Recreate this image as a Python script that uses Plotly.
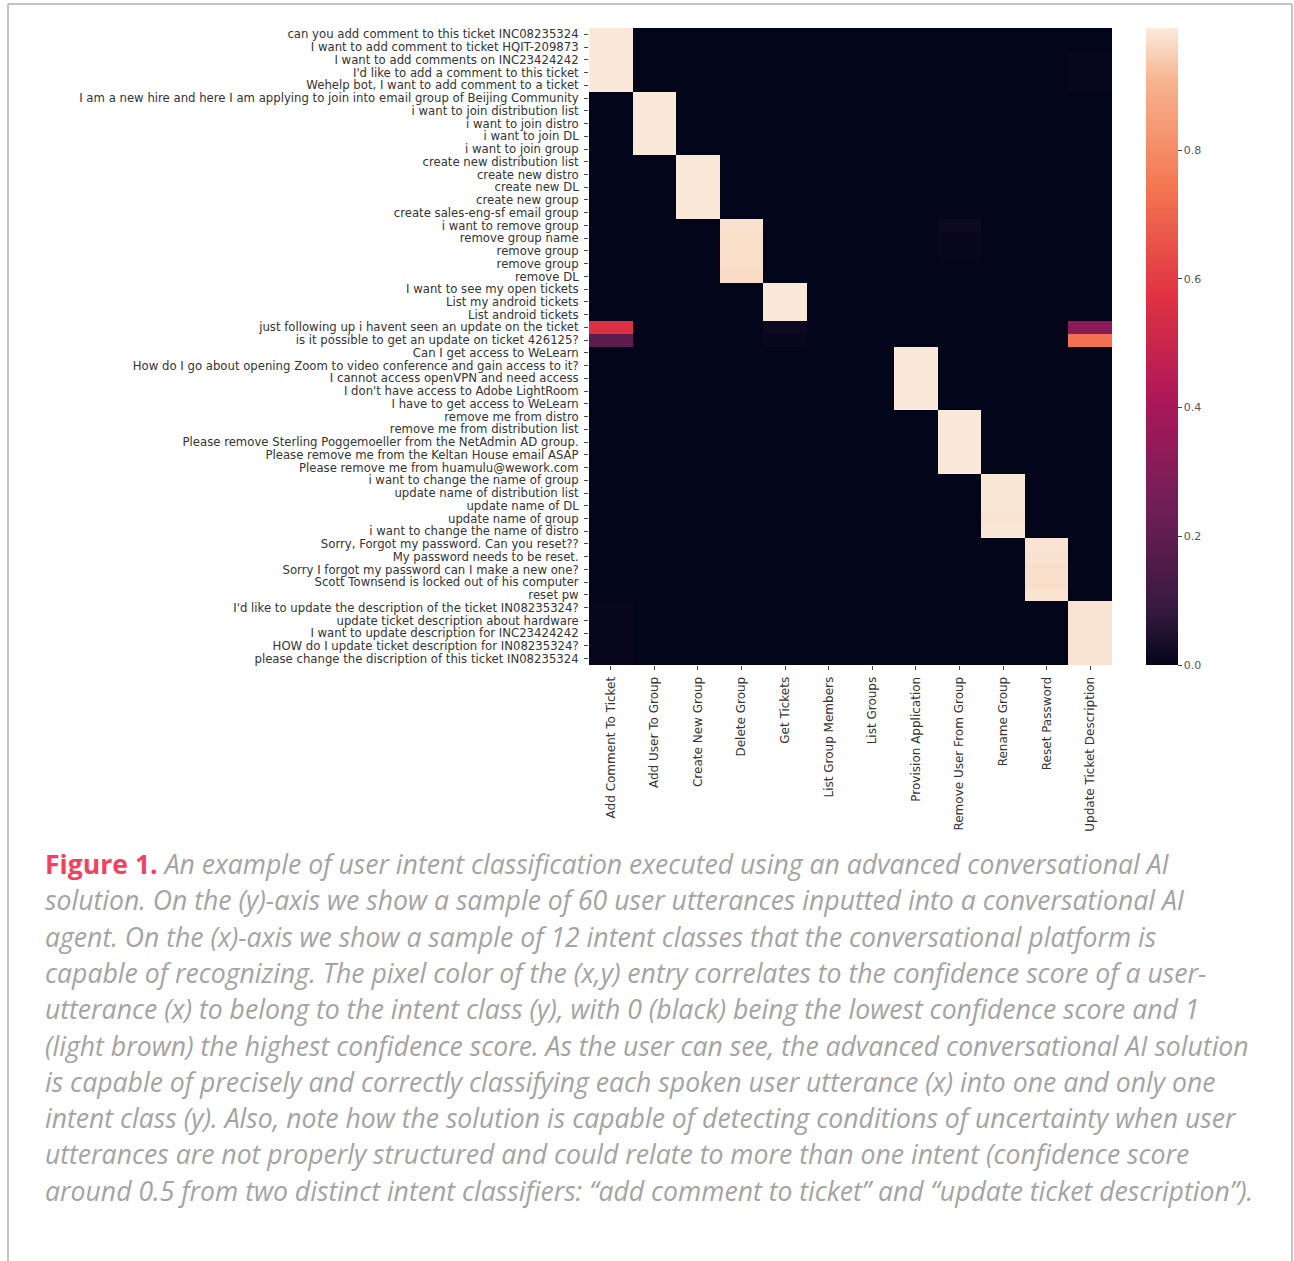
import plotly.graph_objects as go

intents = ["Add Comment To Ticket", "Add User To Group", "Create New Group", "Delete Group",
           "Get Tickets", "List Group Members", "List Groups", "Provision Application",
           "Remove User From Group", "Rename Group", "Reset Password", "Update Ticket Description"]

utterances = [
    "can you add comment to this ticket INC08235324",
    "I want to add comment to ticket HQIT-209873",
    "I want to add comments on INC23424242",
    "I'd like to add a comment to this ticket",
    "Wehelp bot, I want to add comment to a ticket",
    "I am a new hire and here I am applying to join into email group of Beijing Community",
    "i want to join distribution list",
    "i want to join distro",
    "i want to join DL",
    "i want to join group",
    "create new distribution list",
    "create new distro",
    "create new DL",
    "create new group",
    "create sales-eng-sf email group",
    "i want to remove group",
    "remove group name",
    "remove group",
    "remove group",
    "remove DL",
    "I want to see my open tickets",
    "List my android tickets",
    "List android tickets",
    "just following up i havent seen an update on the ticket",
    "is it possible to get an update on ticket 426125?",
    "Can I get access to WeLearn",
    "How do I go about opening Zoom to video conference and gain access to it?",
    "I cannot access openVPN and need access",
    "I don't have access to Adobe LightRoom",
    "I have to get access to WeLearn",
    "remove me from distro",
    "remove me from distribution list",
    "Please remove Sterling Poggemoeller from the NetAdmin AD group.",
    "Please remove me from the Keltan House email ASAP",
    "Please remove me from huamulu@wework.com",
    "i want to change the name of group",
    "update name of distribution list",
    "update name of DL",
    "update name of group",
    "i want to change the name of distro",
    "Sorry, Forgot my password. Can you reset??",
    "My password needs to be reset.",
    "Sorry I forgot my password can I make a new one?",
    "Scott Townsend is locked out of his computer",
    "reset pw",
    "I'd like to update the description of the ticket IN08235324?",
    "update ticket description about hardware",
    "I want to update description for INC23424242",
    "HOW do I update ticket description for IN08235324?",
    "please change the discription of this ticket IN08235324",
]

# confidence scores, one row per utterance, one column per intent
scores = [
    [0.985, 0, 0, 0, 0, 0, 0, 0, 0, 0, 0, 0.000],
    [0.985, 0, 0, 0, 0, 0, 0, 0, 0, 0, 0, 0.000],
    [0.985, 0, 0, 0, 0, 0, 0, 0, 0, 0, 0, 0.006],
    [0.985, 0, 0, 0, 0, 0, 0, 0, 0, 0, 0, 0.006],
    [0.985, 0, 0, 0, 0, 0, 0, 0, 0, 0, 0, 0.006],
    [0, 0.985, 0, 0, 0, 0, 0, 0, 0, 0, 0, 0],
    [0, 0.985, 0, 0, 0, 0, 0, 0, 0, 0, 0, 0],
    [0, 0.985, 0, 0, 0, 0, 0, 0, 0, 0, 0, 0],
    [0, 0.985, 0, 0, 0, 0, 0, 0, 0, 0, 0, 0],
    [0, 0.985, 0, 0, 0, 0, 0, 0, 0, 0, 0, 0],
    [0, 0, 0.985, 0, 0, 0, 0, 0, 0, 0, 0, 0],
    [0, 0, 0.985, 0, 0, 0, 0, 0, 0, 0, 0, 0],
    [0, 0, 0.985, 0, 0, 0, 0, 0, 0, 0, 0, 0],
    [0, 0, 0.985, 0, 0, 0, 0, 0, 0, 0, 0, 0],
    [0, 0, 0.985, 0, 0, 0, 0, 0, 0, 0, 0, 0],
    [0, 0, 0, 0.975, 0, 0, 0, 0, 0.015, 0, 0, 0],
    [0, 0, 0, 0.970, 0, 0, 0, 0, 0.008, 0, 0, 0],
    [0, 0, 0, 0.970, 0, 0, 0, 0, 0.008, 0, 0, 0],
    [0, 0, 0, 0.970, 0, 0, 0, 0, 0.004, 0, 0, 0],
    [0, 0, 0, 0.968, 0, 0, 0, 0, 0.000, 0, 0, 0],
    [0, 0, 0, 0, 0.985, 0, 0, 0, 0, 0, 0, 0],
    [0, 0, 0, 0, 0.985, 0, 0, 0, 0, 0, 0, 0],
    [0, 0, 0, 0, 0.985, 0, 0, 0, 0, 0, 0, 0],
    [0.56, 0, 0, 0, 0.015, 0, 0, 0, 0, 0, 0, 0.32],
    [0.19, 0, 0, 0, 0.010, 0, 0, 0, 0, 0, 0, 0.73],
    [0, 0, 0, 0, 0, 0, 0, 0.985, 0, 0, 0, 0],
    [0, 0, 0, 0, 0, 0, 0, 0.985, 0, 0, 0, 0],
    [0, 0, 0, 0, 0, 0, 0, 0.985, 0, 0, 0, 0],
    [0, 0, 0, 0, 0, 0, 0, 0.985, 0, 0, 0, 0],
    [0, 0, 0, 0, 0, 0, 0, 0.985, 0, 0, 0, 0],
    [0, 0, 0, 0, 0, 0, 0, 0, 0.985, 0, 0, 0],
    [0, 0, 0, 0, 0, 0, 0, 0, 0.985, 0, 0, 0],
    [0, 0, 0, 0, 0, 0, 0, 0, 0.985, 0, 0, 0],
    [0, 0, 0, 0, 0, 0, 0, 0, 0.985, 0, 0, 0],
    [0, 0, 0, 0, 0, 0, 0, 0, 0.985, 0, 0, 0],
    [0, 0, 0, 0, 0, 0, 0, 0, 0, 0.982, 0, 0],
    [0, 0, 0, 0, 0, 0, 0, 0, 0, 0.982, 0, 0],
    [0, 0, 0, 0, 0, 0, 0, 0, 0, 0.982, 0, 0],
    [0, 0, 0, 0, 0, 0, 0, 0, 0, 0.978, 0, 0],
    [0, 0, 0, 0, 0, 0, 0, 0, 0, 0.982, 0, 0],
    [0, 0, 0, 0, 0, 0, 0, 0, 0, 0, 0.978, 0],
    [0, 0, 0, 0, 0, 0, 0, 0, 0, 0, 0.976, 0],
    [0, 0, 0, 0, 0, 0, 0, 0, 0, 0, 0.970, 0],
    [0, 0, 0, 0, 0, 0, 0, 0, 0, 0, 0.970, 0],
    [0, 0, 0, 0, 0, 0, 0, 0, 0, 0, 0.978, 0],
    [0.006, 0, 0, 0, 0, 0, 0, 0, 0, 0, 0, 0.978],
    [0.006, 0, 0, 0, 0, 0, 0, 0, 0, 0, 0, 0.978],
    [0.006, 0, 0, 0, 0, 0, 0, 0, 0, 0, 0, 0.978],
    [0.006, 0, 0, 0, 0, 0, 0, 0, 0, 0, 0, 0.978],
    [0.006, 0, 0, 0, 0, 0, 0, 0, 0, 0, 0, 0.978],
]

cbar_ticks = [0.0, 0.2, 0.4, 0.6, 0.8]
cbar_labels = ["0.0", "0.2", "0.4", "0.6", "0.8"]

rocket = [
    [0.0, "#03051a"], [0.083, "#35193e"], [0.25, "#701f57"], [0.417, "#ad1759"],
    [0.583, "#e13342"], [0.75, "#f37651"], [0.917, "#f6b48f"], [1.0, "#faebdd"],
]

caption_head = "Figure 1."
caption_lines = [
    "An example of user intent classification executed using an advanced conversational AI",
    "solution. On the (y)-axis we show a sample of 60 user utterances inputted into a conversational AI",
    "agent. On the (x)-axis we show a sample of 12 intent classes that the conversational platform is",
    "capable of recognizing. The pixel color of the (x,y) entry correlates to the confidence score of a user-",
    "utterance (x) to belong to the intent class (y), with 0 (black) being the lowest confidence score and 1",
    "(light brown) the highest confidence score. As the user can see, the advanced conversational AI solution",
    "is capable of precisely and correctly classifying each spoken user utterance (x) into one and only one",
    "intent class (y). Also, note how the solution is capable of detecting conditions of uncertainty when user",
    "utterances are not properly structured and could relate to more than one intent (confidence score",
    "around 0.5 from two distinct intent classifiers: \u201cadd comment to ticket\u201d and \u201cupdate ticket description\u201d).",
]

xi = list(range(len(intents)))
yi = list(range(len(utterances)))

fig = go.Figure(go.Heatmap(
    z=scores, x=xi, y=yi, colorscale=rocket, zmin=0, zmax=0.99,
    colorbar=dict(
        x=(1146 - 589) / 523, xanchor="left", xpad=0, y=0.5, yanchor="middle", ypad=0,
        len=1.0, lenmode="fraction",
        thickness=32, outlinewidth=0, tickvals=cbar_ticks, ticktext=cbar_labels,
        ticks="outside", ticklen=4, tickcolor="#444",
        tickfont=dict(family="DejaVu Sans", size=11, color="#555"),
    ),
))

PW, PH = 523, 637
def px(x):
    return (x - 589) / PW
def py(y):
    return (665 - y) / PH

annotations = []
line_y0, line_step = 864, 36.3
for i, line in enumerate(caption_lines):
    if i == 0:
        txt = ("<b><span style='font-style:normal;color:#f43f5e'>" + caption_head +
               "</span></b> <i>" + line + "</i>")
    else:
        txt = "<i>" + line + "</i>"
    annotations.append(dict(
        text=txt, xref="paper", yref="paper", x=px(43), y=py(line_y0 + i * line_step),
        xanchor="left", yanchor="middle", align="left", showarrow=False,
        font=dict(family="Open Sans", size=26.6, color="#a3a3a3"),
    ))

fig.update_layout(
    width=1294, height=1261,
    margin=dict(l=589, r=182, t=28, b=596),
    paper_bgcolor="white", plot_bgcolor="white",
    xaxis=dict(tickmode="array", tickvals=xi, ticktext=intents, tickangle=-90,
               ticks="outside", ticklen=4, tickcolor="#444", showgrid=False, zeroline=False,
               range=[-0.5, len(intents) - 0.5], ticklabelstandoff=2,
               tickfont=dict(family="DejaVu Sans", size=12, color="#333")),
    yaxis=dict(tickmode="array", tickvals=yi, ticktext=utterances, autorange="reversed",
               ticks="outside", ticklen=4, tickcolor="#444", showgrid=False, zeroline=False,
               ticklabelstandoff=3,
               tickfont=dict(family="DejaVu Sans", size=11.7, color="#333")),
    shapes=[
        dict(type="line", xref="paper", yref="paper", x0=px(8), x1=px(1292), y0=py(4), y1=py(4),
             line=dict(color="#c4c4c4", width=2)),
        dict(type="line", xref="paper", yref="paper", x0=px(8), x1=px(8), y0=py(4), y1=py(1261),
             line=dict(color="#c4c4c4", width=2)),
        dict(type="line", xref="paper", yref="paper", x0=px(1292), x1=px(1292), y0=py(4), y1=py(1261),
             line=dict(color="#c4c4c4", width=2)),
    ],
    annotations=annotations,
)

fig.write_html("out.html", config={"displayModeBar": False},
               post_script="document.body.style.margin='0';document.body.style.overflow='hidden';")
